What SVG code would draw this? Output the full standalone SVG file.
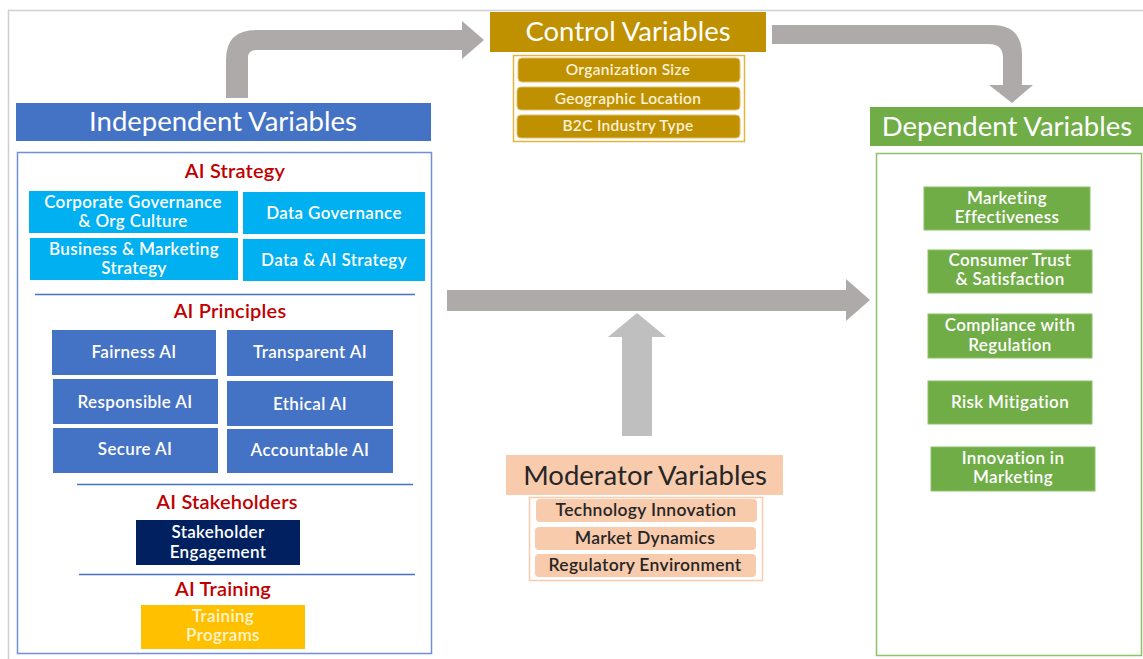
<svg xmlns="http://www.w3.org/2000/svg" width="1143" height="659" viewBox="0 0 1143 659">
  <style>
    text { font-family: Lato, "Open Sans", "Liberation Sans", sans-serif; text-anchor: middle; }
    .hdr { font-size: 27.5px; fill: #ffffff; }
    .hdr-dark { font-size: 27.5px; fill: #262626; }
    .sec { font-size: 20px; font-weight: 600; fill: #c00000; letter-spacing: 0.2px; }
    .item { font-size: 17px; font-weight: 600; fill: #ffffff; letter-spacing: 0.35px; }
    .item-pale { font-size: 17px; font-weight: 600; fill: #fff4d0; letter-spacing: 0.35px; }
    .small { font-size: 15.5px; font-weight: 600; fill: #fdf1d6; letter-spacing: 0.3px; }
    .dark { font-size: 17.5px; font-weight: 600; fill: #262626; letter-spacing: 0.3px; }
    .rule { stroke: #4472c4; stroke-width: 1.5; }
    .cyan { fill: #00b0f0; }
    .blue { fill: #4472c4; }
    .green { fill: #70ad47; stroke: #8cc26a; stroke-width: 1; }
    .gold { fill: #bf9000; stroke: #e3c06a; stroke-width: 1; }
    .peach { fill: #f8cbad; }
    .conn { fill: #aeaaaa; }
  </style>

  <!-- page frame -->
  <rect x="8.5" y="10.5" width="1145" height="660" fill="#ffffff" stroke="#d0d0d0" stroke-width="1.5"/>

  <g id="connectors">
    <!-- independent to control -->
    <path class="conn" d="M226,98 V60 Q226,30 256,30 H462 V21 L484,40 L462,59 V50 H256 Q248,50 248,58 V98 Z"/>
    <!-- control to dependent -->
    <path class="conn" d="M772,25 H992 Q1022,25 1022,55 V85 H1033 L1012,103 L989,85 H1003 V58 Q1003,44 989,44 H772 Z"/>
    <!-- independent to dependent -->
    <path class="conn" d="M447,290 H846 V279 L870,300 L846,321 V311 H447 Z"/>
    <!-- moderator arrow -->
    <path fill="#bfbfbf" d="M622,436 V337 H608 L637,313 L666,337 H652 V436 Z"/>
  </g>

  <g id="independent">
    <rect x="16" y="103" width="415" height="38" class="blue"/>
    <text class="hdr" x="223" y="131">Independent Variables</text>
    <rect x="17.5" y="152.5" width="414" height="501" fill="none" stroke="#6f8fd6" stroke-width="1.5"/>

    <g id="ai-strategy">
      <text class="sec" x="235" y="178">AI Strategy</text>
      <rect x="29" y="191" width="209" height="42" class="cyan"/>
      <text class="item" x="133" y="208">Corporate Governance</text>
      <text class="item" x="133" y="227">&amp; Org Culture</text>
      <rect x="243" y="192" width="182" height="42" class="cyan"/>
      <text class="item" x="334" y="219">Data Governance</text>
      <rect x="30" y="238" width="208" height="42" class="cyan"/>
      <text class="item" x="134" y="255">Business &amp; Marketing</text>
      <text class="item" x="134" y="274">Strategy</text>
      <rect x="243" y="239" width="182" height="42" class="cyan"/>
      <text class="item" x="334" y="266">Data &amp; AI Strategy</text>
      <line class="rule" x1="35" y1="294.5" x2="415" y2="294.5"/>
    </g>

    <g id="ai-principles">
      <text class="sec" x="230" y="318">AI Principles</text>
      <rect x="52" y="330" width="164" height="45" class="blue"/>
      <text class="item" x="134" y="358">Fairness AI</text>
      <rect x="227" y="330" width="166" height="46" class="blue"/>
      <text class="item" x="310" y="358">Transparent AI</text>
      <rect x="53" y="379" width="165" height="45" class="blue"/>
      <text class="item" x="135" y="408">Responsible AI</text>
      <rect x="227" y="381" width="166" height="45" class="blue"/>
      <text class="item" x="310" y="410">Ethical AI</text>
      <rect x="53" y="428" width="165" height="45" class="blue"/>
      <text class="item" x="135" y="455">Secure AI</text>
      <rect x="227" y="429" width="166" height="44" class="blue"/>
      <text class="item" x="310" y="456">Accountable AI</text>
      <line class="rule" x1="77" y1="484.5" x2="413" y2="484.5"/>
    </g>

    <g id="ai-stakeholders">
      <text class="sec" x="227" y="509">AI Stakeholders</text>
      <rect x="136" y="520" width="164" height="45" fill="#002060"/>
      <text class="item" x="218" y="538">Stakeholder</text>
      <text class="item" x="218" y="558">Engagement</text>
      <line class="rule" x1="79" y1="574.5" x2="415" y2="574.5"/>
    </g>

    <g id="ai-training">
      <text class="sec" x="223" y="596">AI Training</text>
      <rect x="141" y="605" width="164" height="44" fill="#ffc000"/>
      <text class="item-pale" x="223" y="622">Training</text>
      <text class="item-pale" x="223" y="641">Programs</text>
    </g>
  </g>

  <g id="control">
    <rect x="490" y="12" width="276" height="40" fill="#bf9000"/>
    <text class="hdr" x="628" y="41">Control Variables</text>
    <rect x="513.5" y="55.5" width="231" height="86" fill="#ffffff" stroke="#e0b640" stroke-width="1.5"/>
    <rect x="518" y="58" width="222" height="24" rx="4" class="gold"/>
    <text class="small" x="628" y="75">Organization Size</text>
    <rect x="517" y="87" width="223" height="23" rx="4" class="gold"/>
    <text class="small" x="628" y="104">Geographic Location</text>
    <rect x="517" y="115" width="223" height="23" rx="4" class="gold"/>
    <text class="small" x="628" y="131">B2C Industry Type</text>
  </g>

  <g id="moderator">
    <rect x="506" y="455" width="277" height="40" class="peach"/>
    <text class="hdr-dark" x="645" y="485">Moderator Variables</text>
    <rect x="529.5" y="497.5" width="233" height="83" fill="#ffffff" stroke="#f8cbad" stroke-width="1.5"/>
    <rect x="536" y="499" width="221" height="23" rx="4" class="peach"/>
    <text class="dark" x="646" y="516">Technology Innovation</text>
    <rect x="535" y="527" width="221" height="23" rx="4" class="peach"/>
    <text class="dark" x="645" y="544">Market Dynamics</text>
    <rect x="535" y="554" width="221" height="23" rx="4" class="peach"/>
    <text class="dark" x="645" y="571">Regulatory Environment</text>
  </g>

  <g id="dependent">
    <rect x="870" y="107" width="273" height="39" fill="#70ad47"/>
    <text class="hdr" x="1007" y="136">Dependent Variables</text>
    <rect x="876.5" y="153.5" width="265" height="502" fill="none" stroke="#8cc26a" stroke-width="1.5"/>
    <rect x="924" y="187" width="166" height="43" class="green"/>
    <text class="item" x="1007" y="204">Marketing</text>
    <text class="item" x="1007" y="223">Effectiveness</text>
    <rect x="928" y="250" width="164" height="43" class="green"/>
    <text class="item" x="1010" y="266">Consumer Trust</text>
    <text class="item" x="1010" y="285">&amp; Satisfaction</text>
    <rect x="928" y="314" width="164" height="44" class="green"/>
    <text class="item" x="1010" y="331">Compliance with</text>
    <text class="item" x="1010" y="351">Regulation</text>
    <rect x="928" y="381" width="164" height="43" class="green"/>
    <text class="item" x="1010" y="408">Risk Mitigation</text>
    <rect x="931" y="447" width="164" height="44" class="green"/>
    <text class="item" x="1013" y="464">Innovation in</text>
    <text class="item" x="1013" y="483">Marketing</text>
  </g>
</svg>
